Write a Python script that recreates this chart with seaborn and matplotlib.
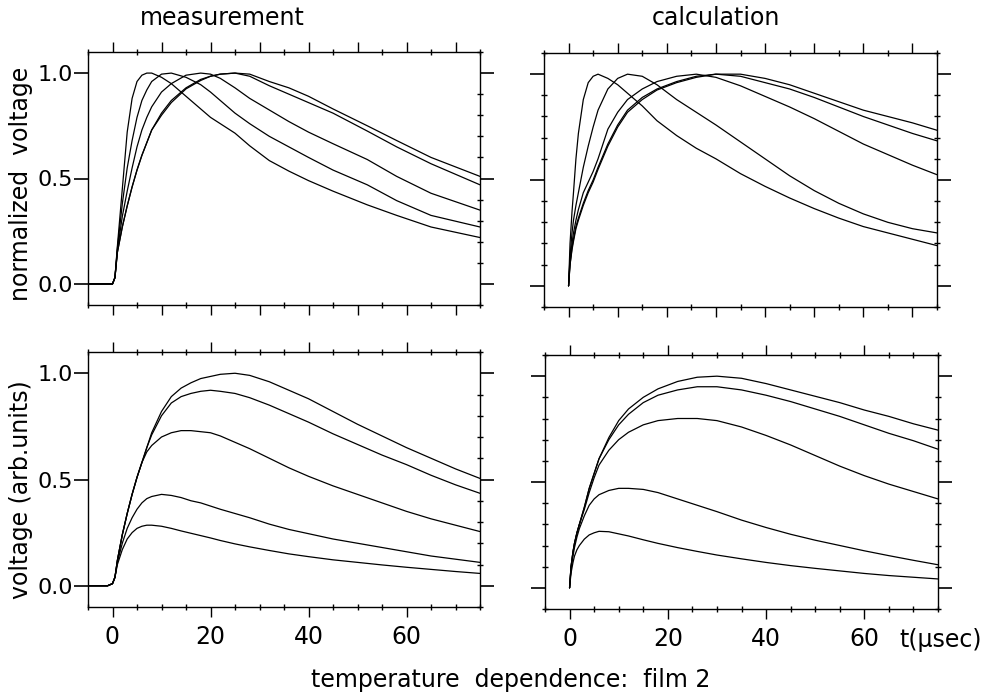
import numpy as np
import pandas as pd
import matplotlib
matplotlib.use("Agg")
import matplotlib.pyplot as plt
from matplotlib.ticker import MultipleLocator, FixedLocator
import seaborn as sns

# --- data (t in microseconds) ---

# measurement, normalized (top left)
t_meas_norm = [-5, -1, 0, 0.5, 1, 2, 3, 4, 5, 6, 7, 8, 10, 12, 15, 18, 20, 22, 25, 28,
               32, 36, 40, 45, 52, 58, 65, 75]
mn_a = [0, 0, 0, 0.03, 0.18, 0.45, 0.72, 0.88, 0.96, 0.99, 1.0, 1.0, 0.98, 0.95, 0.89, 0.83,
        0.79, 0.76, 0.715, 0.655, 0.585, 0.535, 0.49, 0.44, 0.375, 0.325, 0.27, 0.22]
mn_b = [0, 0, 0, 0.03, 0.17, 0.38, 0.55, 0.68, 0.79, 0.87, 0.92, 0.96, 0.995, 1.0, 0.98, 0.945,
        0.91, 0.87, 0.81, 0.76, 0.70, 0.65, 0.60, 0.54, 0.47, 0.395, 0.325, 0.27]
mn_c = [0, 0, 0, 0.03, 0.16, 0.32, 0.44, 0.55, 0.65, 0.73, 0.79, 0.84, 0.91, 0.95, 0.99, 1.0,
        0.995, 0.975, 0.93, 0.88, 0.825, 0.77, 0.72, 0.665, 0.59, 0.51, 0.43, 0.35]
mn_d = [0, 0, 0, 0.03, 0.15, 0.27, 0.37, 0.46, 0.54, 0.61, 0.67, 0.73, 0.81, 0.87, 0.93, 0.97,
        0.985, 0.995, 1.0, 0.985, 0.94, 0.90, 0.86, 0.81, 0.725, 0.65, 0.57, 0.47]
mn_e = [0, 0, 0, 0.03, 0.15, 0.27, 0.37, 0.46, 0.54, 0.61, 0.67, 0.73, 0.80, 0.86, 0.925, 0.965,
        0.985, 0.995, 1.0, 0.995, 0.96, 0.93, 0.89, 0.83, 0.75, 0.68, 0.60, 0.51]

# calculation, normalized (top right)
t_calc = [0, 0.3, 0.7, 1, 1.5, 2, 3, 4, 5, 6, 8, 10, 12, 15, 18, 22, 26, 30, 35, 40,
          45, 50, 55, 60, 65, 70, 75]
cn_1 = [0, 0.2, 0.35, 0.44, 0.6, 0.72, 0.88, 0.96, 0.99, 1.0, 0.98, 0.95, 0.91, 0.85, 0.78,
        0.71, 0.65, 0.60, 0.53, 0.47, 0.415, 0.365, 0.32, 0.28, 0.25, 0.22, 0.19]
cn_2 = [0, 0.14, 0.25, 0.31, 0.38, 0.44, 0.56, 0.66, 0.75, 0.83, 0.93, 0.98, 1.0, 0.99, 0.95,
        0.88, 0.82, 0.76, 0.68, 0.60, 0.52, 0.45, 0.39, 0.34, 0.30, 0.27, 0.25]
cn_3 = [0, 0.12, 0.2, 0.25, 0.31, 0.36, 0.44, 0.49, 0.54, 0.60, 0.74, 0.82, 0.88, 0.93, 0.965,
        0.99, 1.0, 0.985, 0.945, 0.895, 0.845, 0.79, 0.73, 0.67, 0.62, 0.57, 0.525]
cn_4 = [0, 0.1, 0.18, 0.22, 0.28, 0.32, 0.39, 0.45, 0.50, 0.56, 0.67, 0.76, 0.83, 0.89, 0.93,
        0.965, 0.99, 1.0, 0.99, 0.96, 0.93, 0.89, 0.845, 0.80, 0.76, 0.72, 0.685]
cn_5 = [0, 0.1, 0.17, 0.21, 0.27, 0.31, 0.38, 0.44, 0.49, 0.55, 0.66, 0.75, 0.82, 0.88, 0.925,
        0.96, 0.985, 1.0, 1.0, 0.98, 0.95, 0.91, 0.87, 0.83, 0.80, 0.77, 0.735]

# measurement, arb. units (bottom left)
t_meas_abs = [-5, -1, 0, 0.5, 1, 2, 3, 4, 5, 6, 7, 8, 10, 12, 14, 16, 18, 20, 22, 25, 28,
              32, 36, 40, 45, 50, 55, 60, 65, 70, 75]
ma_1 = [0, 0, 0.01, 0.04, 0.12, 0.24, 0.34, 0.43, 0.51, 0.58, 0.65, 0.72, 0.82, 0.89, 0.93,
        0.955, 0.975, 0.985, 0.995, 1.0, 0.99, 0.96, 0.92, 0.88, 0.82, 0.76, 0.705, 0.65, 0.60,
        0.55, 0.505]
ma_2 = [0, 0, 0.01, 0.04, 0.12, 0.24, 0.34, 0.43, 0.51, 0.58, 0.65, 0.71, 0.80, 0.86, 0.89,
        0.905, 0.915, 0.92, 0.915, 0.905, 0.885, 0.85, 0.81, 0.77, 0.715, 0.665, 0.615, 0.57,
        0.52, 0.475, 0.435]
ma_3 = [0, 0, 0.01, 0.04, 0.12, 0.24, 0.34, 0.43, 0.51, 0.58, 0.63, 0.66, 0.70, 0.72, 0.73,
        0.73, 0.725, 0.72, 0.705, 0.675, 0.645, 0.60, 0.555, 0.515, 0.47, 0.43, 0.39, 0.35,
        0.315, 0.285, 0.255]
ma_4 = [0, 0, 0.01, 0.04, 0.11, 0.20, 0.27, 0.32, 0.36, 0.39, 0.41, 0.42, 0.43, 0.425, 0.415,
        0.40, 0.39, 0.375, 0.36, 0.34, 0.32, 0.29, 0.265, 0.245, 0.22, 0.20, 0.18, 0.16, 0.14,
        0.125, 0.11]
ma_5 = [0, 0, 0.01, 0.04, 0.10, 0.17, 0.22, 0.25, 0.27, 0.28, 0.285, 0.285, 0.28, 0.27, 0.258,
        0.247, 0.236, 0.225, 0.213, 0.197, 0.183, 0.166, 0.15, 0.137, 0.122, 0.11, 0.098, 0.087,
        0.077, 0.067, 0.058]

# calculation, arb. units (bottom right)
ca_1 = [0, 0.1, 0.17, 0.21, 0.26, 0.30, 0.38, 0.47, 0.54, 0.61, 0.71, 0.79, 0.845, 0.90, 0.94,
        0.975, 0.995, 1.0, 0.99, 0.965, 0.935, 0.905, 0.875, 0.84, 0.81, 0.775, 0.745]
ca_2 = [0, 0.1, 0.17, 0.21, 0.26, 0.30, 0.38, 0.47, 0.54, 0.61, 0.70, 0.77, 0.82, 0.875, 0.91,
        0.935, 0.95, 0.95, 0.935, 0.91, 0.88, 0.845, 0.81, 0.77, 0.73, 0.695, 0.655]
ca_3 = [0, 0.1, 0.17, 0.21, 0.26, 0.30, 0.37, 0.45, 0.52, 0.58, 0.65, 0.70, 0.735, 0.77, 0.79,
        0.80, 0.80, 0.79, 0.76, 0.72, 0.675, 0.625, 0.575, 0.53, 0.49, 0.455, 0.42]
ca_4 = [0, 0.09, 0.15, 0.19, 0.24, 0.28, 0.34, 0.39, 0.42, 0.44, 0.46, 0.47, 0.47, 0.465, 0.45,
        0.42, 0.39, 0.36, 0.32, 0.285, 0.253, 0.225, 0.20, 0.175, 0.152, 0.13, 0.109]
ca_5 = [0, 0.07, 0.12, 0.15, 0.18, 0.20, 0.23, 0.25, 0.26, 0.267, 0.265, 0.255, 0.245, 0.227,
        0.21, 0.19, 0.172, 0.155, 0.137, 0.12, 0.105, 0.092, 0.08, 0.068, 0.058, 0.05, 0.042]

x_tick_labels = ["0", "20", "40", "60"]
y_tick_labels = ["0.0", "0.5", "1.0"]

# --- style ---
sns.set_style("white")
plt.rcParams["font.family"] = ["DejaVu Sans"]
plt.rcParams["text.color"] = "black"
plt.rcParams["xtick.color"] = "black"
plt.rcParams["ytick.color"] = "black"
FS = 17
TFS = 16
W, H = 993, 698

fig = plt.figure(figsize=(W / 100, H / 100), dpi=100)


def px_axes(x0, y0, x1, y1):
    return fig.add_axes([x0 / W, 1 - y1 / H, (x1 - x0) / W, (y1 - y0) / H])


ax_tl = px_axes(88, 52, 480, 305)
ax_tr = px_axes(544, 53, 937, 307)
ax_bl = px_axes(88, 352, 480, 607)
ax_br = px_axes(545, 355, 938, 609)

panels = [
    (ax_tl, t_meas_norm, [mn_a, mn_b, mn_c, mn_d, mn_e]),
    (ax_tr, t_calc, [cn_1, cn_2, cn_3, cn_4, cn_5]),
    (ax_bl, t_meas_abs, [ma_1, ma_2, ma_3, ma_4, ma_5]),
    (ax_br, t_calc, [ca_1, ca_2, ca_3, ca_4, ca_5]),
]

for i, (ax, tt, curves) in enumerate(panels):
    for v in curves:
        sns.lineplot(x=tt, y=v, ax=ax, color="black", lw=0.9, estimator=None, sort=False)
    ax.set_xlim(-5, 75)
    ax.set_ylim(-0.1, 1.1)
    for s in ax.spines.values():
        s.set_visible(True)
        s.set_linewidth(1.0)
        s.set_color("black")

    # x ticks: major every 10, minor every 5, top and bottom
    ax.xaxis.set_major_locator(MultipleLocator(10))
    ax.xaxis.set_minor_locator(MultipleLocator(5))
    ax.tick_params(axis="x", which="major", direction="out", length=7, width=1,
                   top=True, bottom=True, labelsize=FS, pad=6)
    ax.tick_params(axis="x", which="minor", direction="inout", length=5, width=1,
                   top=True, bottom=True)
    if i >= 2:
        ax.set_xticks([0, 20, 40, 60], labels=x_tick_labels)
        ax.xaxis.set_minor_locator(FixedLocator([-5, 5, 10, 15, 25, 30, 35, 45, 50, 55, 65, 70, 75]))
    else:
        ax.set_xticklabels([])

    # y ticks: major 0/0.5/1.0 outward, minor every 0.1 small
    ax.set_yticks([0.0, 0.5, 1.0])
    ax.yaxis.set_minor_locator(MultipleLocator(0.1))
    ax.tick_params(axis="y", which="major", direction="out", length=10, width=1.2,
                   left=True, right=True, labelsize=TFS, pad=1)
    ax.tick_params(axis="y", which="minor", direction="inout", length=5, width=1,
                   left=(i % 2 == 1), right=True)
    if i % 2 == 0:
        ax.set_yticklabels(y_tick_labels)
    else:
        ax.set_yticklabels([])
    ax.set_xlabel("")
    ax.set_ylabel("")

# texts
fig.text(222 / W, 1 - 18 / H, "measurement", fontsize=FS, ha="center", va="center")
fig.text(716 / W, 1 - 18 / H, "calculation", fontsize=FS, ha="center", va="center")
fig.text(21 / W, 1 - 184 / H, "normalized  voltage", fontsize=FS, ha="center", va="center",
         rotation=90)
fig.text(21 / W, 1 - 490 / H, "voltage (arb.units)", fontsize=FS, ha="center", va="center",
         rotation=90)
fig.text(941 / W, 1 - 640 / H, "t(μsec)", fontsize=FS, ha="center", va="center")
fig.text(511 / W, 1 - 680 / H, "temperature  dependence:  film 2", fontsize=FS,
         ha="center", va="center")

fig.savefig("out.png", dpi=100, facecolor="white")
